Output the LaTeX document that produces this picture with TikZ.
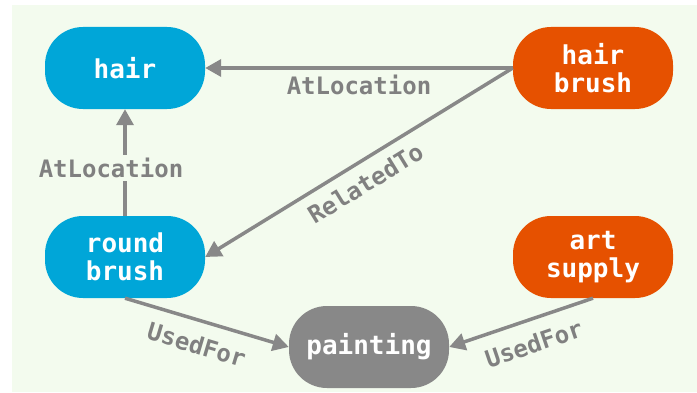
\documentclass[tikz,border=0pt]{standalone}
\usepackage{fontspec}
\usetikzlibrary{arrows.meta}
\newfontfamily\dmono{DejaVu Sans Mono}
\definecolor{bggreen}{RGB}{243,251,238}
\definecolor{nblue}{RGB}{0,166,216}
\definecolor{norange}{RGB}{230,81,0}
\definecolor{ngray}{RGB}{136,136,136}
\definecolor{egray}{RGB}{136,136,136}
\definecolor{lgray}{RGB}{128,128,128}
\tikzset{
  concept/.style={rounded corners=38pt, minimum width=160pt, minimum height=82pt,
    inner sep=0pt, align=center, text=white,
    font=\dmono\bfseries\fontsize{26}{28}\selectfont},
  bluenode/.style={concept, fill=nblue},
  orangenode/.style={concept, fill=norange},
  graynode/.style={concept, fill=ngray},
  rel/.style={draw=egray, line width=3.5pt, -{Triangle[length=16pt,width=17pt]}},
  elabel/.style={text=lgray, inner sep=1pt, font=\dmono\bfseries\fontsize{24}{26}\selectfont}
}
\begin{document}
\begin{tikzpicture}[x=1pt,y=1pt]
\useasboundingbox (0,0) rectangle (697,392);
\fill[white] (0,0) rectangle (697,392);
\fill[bggreen] (12,0) rectangle (697,387);
\node[bluenode] (hair) at (125,324) {hair};
\node[orangenode] (hairbrush) at (593,324) {hair\\brush};
\node[bluenode] (round) at (125,135) {round\\brush};
\node[orangenode] (art) at (593,135) {art\\supply};
\node[graynode] (painting) at (369,45) {painting};
\draw[rel] (hairbrush.west) -- (hair.east)
  node[elabel, pos=0.5, yshift=-17pt] {AtLocation};
\draw[rel] (round.north) -- (hair.south)
  node[elabel, fill=bggreen, pos=0.45, xshift=-14pt, inner sep=3pt] {AtLocation};
\draw[rel] (hairbrush.west) -- (round.east)
  node[elabel, pos=0.515, sloped, below=9pt] {RelatedTo};
\draw[rel] (round.south) -- (painting.west)
  node[elabel, pos=0.48, sloped, below=12pt] {UsedFor};
\draw[rel] (art.south) -- (painting.east)
  node[elabel, pos=0.465, sloped, below=12pt] {UsedFor};
\end{tikzpicture}
\end{document}
